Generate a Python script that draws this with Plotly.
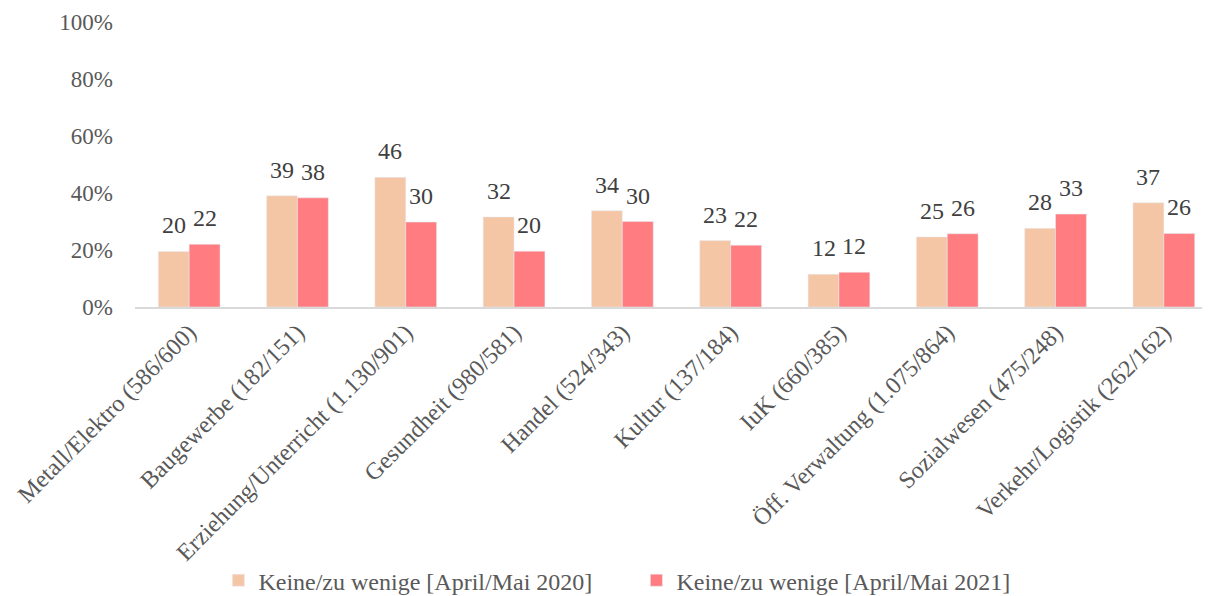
import plotly.graph_objects as go

categories = [
    'Metall/Elektro (586/600)',
    'Baugewerbe (182/151)',
    'Erziehung/Unterricht (1.130/901)',
    'Gesundheit (980/581)',
    'Handel (524/343)',
    'Kultur (137/184)',
    'IuK (660/385)',
    'Öff. Verwaltung (1.075/864)',
    'Sozialwesen (475/248)',
    'Verkehr/Logistik (262/162)',
]
values_2020 = [19.5, 39.0, 45.5, 31.6, 33.8, 23.3, 11.5, 24.6, 27.6, 36.6]
values_2021 = [22.0, 38.3, 29.8, 19.6, 30.0, 21.7, 12.2, 25.7, 32.6, 25.8]
name_2020 = 'Keine/zu wenige [April/Mai 2020]'
name_2021 = 'Keine/zu wenige [April/Mai 2021]'

font_family = 'Liberation Serif, Times New Roman, serif'

fig = go.Figure([
    go.Bar(x=categories, y=values_2020, name=name_2020,
           marker=dict(color='#F5C6A5')),
    go.Bar(x=categories, y=values_2021, name=name_2021,
           marker=dict(color='#FF7C80')),
])

# value labels above the bars, a little further up than plotly's own outside text
for values, shift in [(values_2020, -15.4), (values_2021, 15.4)]:
    for cat, val in zip(categories, values):
        fig.add_annotation(
            x=cat, y=val, text=str(int(val + 0.5)), showarrow=False,
            xanchor='center', yanchor='bottom', xshift=shift, yshift=11,
            font=dict(size=24, color='#404040', family=font_family)
        )

fig.update_layout(
    width=1210, height=596,
    barmode='group', bargap=0.43, bargroupgap=0,
    plot_bgcolor='white', paper_bgcolor='white',
    font=dict(family=font_family, color='#595959'),
    margin=dict(l=127, r=0, t=14, b=297),
    showlegend=True,
    legend=dict(
        orientation='h', x=0.077, xanchor='left', y=-0.96, yanchor='middle',
        font=dict(size=24, color='#595959'), traceorder='normal',
        itemwidth=30, entrywidth=373
    ),
)

fig.update_xaxes(
    tickangle=-45, tickfont=dict(size=24, color='#595959'),
    showline=True, linecolor='#D9D9D9', linewidth=1.5,
    showgrid=False, ticks=''
)
fig.update_yaxes(
    range=[0, 100], dtick=20, ticksuffix='%',
    tickfont=dict(size=23, color='#595959'), ticklabelstandoff=21,
    showgrid=False, showline=False, zeroline=False, ticks=''
)

fig.write_html('out.html')
